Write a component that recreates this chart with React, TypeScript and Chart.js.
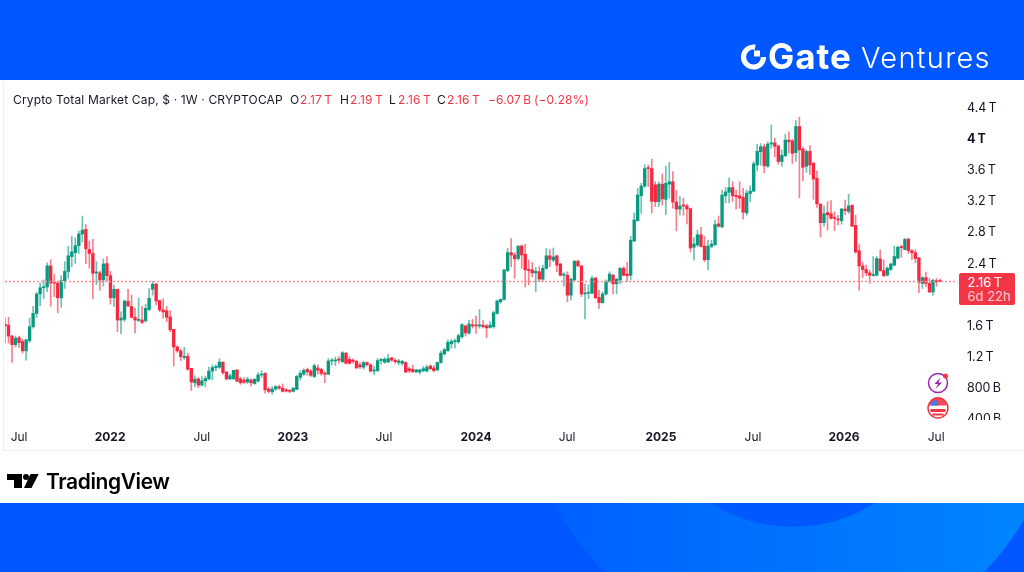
import React, { useEffect, useRef } from "react";
import { Chart, registerables } from "chart.js";

Chart.register(...registerables);

// Weekly candles, values in trillions of USD.
const opens = [
  1.61,1.60,1.46,1.35,1.44,1.39,1.27,1.40,1.58,1.75,
  2.00,2.08,2.09,2.36,2.15,2.14,1.95,2.17,2.29,2.48,
  2.53,2.62,2.77,2.83,2.57,2.52,2.27,2.27,2.18,2.39,
  2.235,1.95,2.06,1.665,1.675,1.905,1.84,1.70,1.66,1.665,
  1.655,1.80,2.06,2.13,1.915,1.795,1.785,1.705,1.545,1.32,
  1.27,1.185,1.20,1.045,0.86,0.91,0.83,0.885,0.91,1.01,
  1.055,1.06,1.125,1.00,0.91,0.91,1.025,0.91,0.895,0.87,
  0.895,0.85,0.88,0.96,0.98,0.78,0.745,0.78,0.81,0.79,
  0.77,0.76,0.75,0.775,0.93,0.97,1.03,1.01,0.94,1.05,
  1.03,0.985,0.97,1.14,1.14,1.165,1.13,1.24,1.16,1.15,
  1.135,1.09,1.06,1.12,1.09,1.01,1.015,1.145,1.125,1.125,
  1.18,1.15,1.12,1.11,1.12,1.04,1.03,1.0,0.998,1.015,
  1.01,1.075,1.05,1.025,1.12,1.23,1.27,1.36,1.385,1.385,
  1.45,1.59,1.50,1.605,1.60,1.59,1.60,1.59,1.57,1.58,
  1.75,1.90,1.93,2.30,2.53,2.50,2.455,2.615,2.51,2.315,
  2.31,2.27,2.285,2.19,2.33,2.49,2.435,2.49,2.385,2.24,
  2.24,1.985,2.18,2.42,2.36,2.0,2.01,2.01,2.205,1.955,
  1.89,2.0,2.16,2.24,2.13,2.18,2.33,2.255,2.24,2.68,
  2.94,3.26,3.385,3.62,3.61,3.40,3.185,3.41,3.215,3.41,
  3.44,3.18,3.09,3.14,3.13,3.095,2.60,2.63,2.76,2.615,
  2.44,2.61,2.63,2.90,2.86,3.26,3.305,3.365,3.265,3.26,
  3.24,3.04,3.29,3.32,3.655,3.825,3.89,3.64,3.925,3.94,
  3.90,3.70,3.775,3.975,3.965,3.815,4.15,3.86,3.64,3.83,
  3.68,3.485,3.155,2.915,3.045,3.03,2.98,2.96,2.94,3.09,
  3.06,3.14,2.88,2.555,2.36,2.315,2.27,2.235,2.24,2.45,
  2.30,2.24,2.315,2.37,2.46,2.605,2.57,2.705,2.555,2.53,
  2.465,2.135,2.21,2.135,2.025,2.165,2.17,
];
const closes = [
  1.59,1.46,1.35,1.43,1.375,1.27,1.41,1.58,1.75,2.00,
  2.08,2.09,2.36,2.14,2.14,1.95,2.17,2.29,2.49,2.54,
  2.62,2.77,2.82,2.58,2.52,2.265,2.28,2.18,2.385,2.235,
  1.95,2.06,1.665,1.69,1.91,1.845,1.70,1.665,1.675,1.635,
  1.815,1.945,2.125,1.91,1.795,1.77,1.70,1.54,1.32,1.27,
  1.195,1.20,1.035,0.87,0.905,0.83,0.885,0.915,1.01,1.055,
  1.07,1.125,0.99,0.91,0.95,1.02,0.88,0.86,0.865,0.905,
  0.86,0.905,0.96,0.97,0.77,0.75,0.78,0.81,0.79,0.75,
  0.755,0.75,0.79,0.94,0.98,1.02,1.00,0.955,1.08,1.02,
  0.98,0.97,1.14,1.15,1.15,1.15,1.245,1.11,1.11,1.135,
  1.05,1.065,1.12,1.09,1.01,1.025,1.145,1.16,1.16,1.17,
  1.15,1.13,1.14,1.135,0.998,1.015,1.0,1.025,1.025,1.04,
  1.06,1.04,1.015,1.12,1.24,1.285,1.38,1.39,1.40,1.465,
  1.605,1.50,1.615,1.59,1.59,1.60,1.58,1.565,1.60,1.76,
  1.91,1.93,2.31,2.53,2.50,2.45,2.615,2.50,2.31,2.30,
  2.27,2.29,2.19,2.33,2.49,2.445,2.475,2.37,2.24,2.255,
  1.985,2.19,2.42,2.36,2.0,2.01,2.02,2.20,1.95,1.89,
  2.0,2.165,2.255,2.13,2.19,2.33,2.24,2.235,2.69,2.95,
  3.27,3.385,3.61,3.61,3.19,3.185,3.41,3.22,3.42,3.44,
  3.18,3.09,3.13,3.13,3.09,2.59,2.64,2.76,2.61,2.44,
  2.615,2.64,2.89,2.87,3.27,3.31,3.365,3.26,3.25,3.23,
  3.05,3.295,3.32,3.67,3.83,3.89,3.645,3.925,3.94,3.895,
  3.70,3.78,3.975,3.955,3.805,4.15,3.85,3.625,3.83,3.655,
  3.475,3.155,2.915,3.03,3.015,2.97,2.97,2.95,3.09,3.07,
  3.13,2.87,2.54,2.36,2.315,2.27,2.24,2.25,2.455,2.30,
  2.235,2.33,2.385,2.48,2.60,2.595,2.70,2.555,2.53,2.455,
  2.15,2.21,2.135,2.025,2.175,2.155,2.16,
];
const highs = [
  1.69,1.70,1.47,1.46,1.46,1.42,1.42,1.69,1.84,2.02,
  2.14,2.18,2.40,2.44,2.25,2.16,2.235,2.415,2.61,2.74,
  2.72,2.81,3.00,2.89,2.68,2.70,2.415,2.295,2.45,2.48,
  2.29,2.115,2.06,1.77,1.92,2.06,1.985,1.815,1.95,1.84,
  1.87,2.07,2.16,2.13,1.92,1.94,1.84,1.785,1.545,1.335,
  1.29,1.315,1.24,1.045,0.95,0.925,0.94,0.945,1.06,1.09,
  1.09,1.17,1.13,1.00,0.975,1.02,1.03,0.93,0.925,0.93,
  0.91,0.915,0.99,1.015,0.99,0.80,0.81,0.825,0.83,0.845,
  0.785,0.775,0.80,0.955,1.015,1.04,1.05,1.03,1.10,1.09,
  1.045,1.0,1.17,1.17,1.19,1.195,1.26,1.25,1.195,1.17,
  1.15,1.12,1.135,1.13,1.10,1.07,1.17,1.175,1.185,1.225,
  1.185,1.17,1.16,1.15,1.13,1.06,1.09,1.035,1.035,1.07,
  1.085,1.09,1.08,1.125,1.27,1.30,1.41,1.42,1.42,1.485,
  1.62,1.60,1.66,1.675,1.72,1.80,1.66,1.61,1.645,1.78,
  1.92,1.94,2.31,2.585,2.71,2.53,2.62,2.63,2.64,2.435,
  2.405,2.34,2.35,2.37,2.585,2.57,2.59,2.50,2.39,2.27,
  2.285,2.20,2.43,2.435,2.37,2.13,2.12,2.23,2.21,2.05,
  2.03,2.18,2.285,2.255,2.20,2.34,2.35,2.405,2.74,3.04,
  3.355,3.42,3.66,3.655,3.73,3.44,3.44,3.54,3.64,3.69,
  3.57,3.33,3.25,3.23,3.155,3.10,2.725,2.82,2.855,2.74,
  2.69,2.69,2.95,3.0,3.335,3.37,3.49,3.44,3.335,3.44,
  3.355,3.335,3.385,3.70,3.92,3.93,3.925,3.955,4.17,4.0,
  3.91,3.85,4.05,4.08,3.985,4.23,4.27,3.89,3.85,3.90,
  3.685,3.58,3.155,3.13,3.185,3.2,3.055,3.01,3.10,3.205,
  3.28,3.14,3.01,2.635,2.41,2.37,2.305,2.48,2.48,2.565,
  2.435,2.35,2.39,2.615,2.615,2.63,2.715,2.715,2.57,2.57,
  2.465,2.22,2.28,2.20,2.19,2.20,2.19,
];
const lows = [
  1.37,1.37,1.12,1.32,1.315,1.24,1.15,1.375,1.56,1.70,
  1.85,1.94,2.03,1.84,1.965,1.76,1.83,2.07,2.20,2.35,
  2.39,2.52,2.67,2.39,2.33,1.94,2.12,2.05,2.10,2.16,
  1.87,1.84,1.515,1.49,1.645,1.84,1.69,1.50,1.645,1.62,
  1.635,1.785,1.985,1.86,1.77,1.69,1.645,1.515,1.075,1.25,
  1.145,1.16,1.02,0.76,0.81,0.80,0.82,0.81,0.90,0.895,
  1.015,1.045,0.97,0.895,0.895,0.905,0.875,0.84,0.85,0.85,
  0.82,0.84,0.87,0.93,0.725,0.73,0.715,0.76,0.775,0.74,
  0.74,0.73,0.74,0.775,0.895,0.955,0.955,0.94,0.925,0.97,
  0.955,0.86,0.96,1.09,1.08,1.11,1.12,1.10,1.10,1.11,
  1.045,1.045,1.035,1.075,0.998,0.965,1.0,1.10,1.11,1.12,
  1.135,1.11,1.09,1.085,0.99,0.99,0.995,0.99,0.97,1.0,
  1.0,1.03,1.0,1.015,1.11,1.215,1.265,1.30,1.305,1.365,
  1.43,1.46,1.48,1.56,1.495,1.56,1.56,1.44,1.56,1.56,
  1.74,1.88,1.92,2.285,2.35,2.20,2.435,2.33,2.09,2.115,
  2.22,2.03,2.16,2.16,2.315,2.35,2.415,2.285,2.23,2.10,
  1.90,1.92,2.17,2.35,1.965,1.68,1.94,2.0,1.94,1.81,
  1.88,1.985,2.145,2.0,2.0,2.13,2.23,2.165,2.18,2.67,
  2.935,3.035,3.37,3.38,3.04,3.12,3.12,3.14,3.02,3.23,
  3.10,2.81,3.01,3.01,2.90,2.54,2.435,2.61,2.60,2.415,
  2.31,2.59,2.63,2.855,2.855,3.17,3.17,3.185,3.09,3.10,
  2.96,3.01,3.185,3.31,3.58,3.655,3.555,3.625,3.87,3.76,
  3.665,3.64,3.76,3.81,3.675,3.70,3.235,3.455,3.56,3.53,
  3.215,3.11,2.73,2.87,2.82,2.96,2.81,2.885,2.895,3.015,
  3.035,2.865,2.52,2.05,2.21,2.235,2.135,2.23,2.23,2.29,
  2.22,2.23,2.30,2.36,2.45,2.47,2.565,2.52,2.445,2.40,
  2.015,2.07,2.09,2.02,1.985,2.10,2.16,
];

const lastPrice = 2.16;
const priceLineWeeks = [0, 271];

// x axis: position in weeks from the first candle, with its label
const xTickWeeks = [4, 29.9, 56, 81.9, 107.8, 134, 159.9, 186.6, 212.8, 238.7, 264.9];
const xTickLabels = ["Jul", "2022", "Jul", "2023", "Jul", "2024", "Jul", "2025", "Jul", "2026", "Jul"];

// y axis: the 2 T label is hidden behind the price tag in the reference
const yTickValues = [0.4, 0.8, 1.2, 1.6, 2.4, 2.8, 3.2, 3.6, 4, 4.4];
const yTickLabels = ["400\u2009B", "800\u2009B", "1.2\u2009T", "1.6\u2009T", "2.4\u2009T", "2.8\u2009T", "3.2\u2009T", "3.6\u2009T", "4\u2009T", "4.4\u2009T"];

const UP = "#089981";
const DOWN = "#F7273F";
const UP_WICK = "rgba(8,153,129,0.6)";
const DOWN_WICK = "rgba(247,39,63,0.6)";
const FONT = "Inter, 'Noto Sans', sans-serif";
const INK = "#131722";

const clipAxisBottom = {
  id: "clipAxisBottom",
  afterDraw(chart: any) {
    const { ctx, chartArea } = chart;
    ctx.save();
    ctx.fillStyle = "#fff";
    ctx.fillRect(chartArea.right + 1, chartArea.bottom, 70, 29);
    ctx.restore();
  },
};

function CandleChart() {
  const ref = useRef<HTMLCanvasElement | null>(null);
  useEffect(() => {
    if (!ref.current) return;
    const isUp = (i: number) => closes[i] >= opens[i];
    const chart = new Chart(ref.current, {
      type: "bar",
      data: {
        datasets: [
          {
            label: "Low–High",
            order: 2,
            data: lows.map((l, i) => ({ x: i, y: [l, highs[i]] })),
            backgroundColor: lows.map((_, i) => (isUp(i) ? UP_WICK : DOWN_WICK)),
            barThickness: 1,
            grouped: false,
          },
          {
            label: "Open–Close",
            order: 1,
            data: opens.map((o, i) => ({ x: i, y: [o, closes[i]] })),
            backgroundColor: opens.map((_, i) => (isUp(i) ? UP : DOWN)),
            barThickness: 2.7,
            minBarLength: 1,
            grouped: false,
          },
          {
            type: "line",
            label: "Last",
            order: 0,
            data: priceLineWeeks.map((x) => ({ x, y: lastPrice })),
            borderColor: "#FF8A94",
            backgroundColor: "#FF8A94",
            borderWidth: 1.5,
            borderDash: [2, 2],
            pointRadius: 0,
            clip: false,
          },
        ] as any,
      },
      plugins: [clipAxisBottom],
      options: {
        responsive: false,
        animation: false,
        layout: { padding: { left: 5, top: 92, right: 0, bottom: 122 } },
        plugins: { legend: { display: false }, tooltip: { enabled: false } },
        scales: {
          x: {
            type: "linear",
            offset: false,
            min: 0,
            max: 269.7,
            grid: { display: false, offset: false, drawTicks: false },
            border: { display: false },
            afterBuildTicks: (s: any) => {
              s.ticks = xTickWeeks.map((value) => ({ value }));
            },
            afterFit: (s: any) => {
              s.height = 30;
            },
            ticks: {
              autoSkip: false,
              maxRotation: 0,
              padding: 10,
              color: INK,
              font: (c: any) => ({
                family: FONT,
                size: 12,
                weight: c.index % 2 === 1 ? "700" : "400",
              }),
              callback: (_v: any, i: number) => xTickLabels[i],
            },
          },
          y: {
            type: "linear",
            position: "right",
            min: 0.382,
            max: 4.5926,
            grid: { display: false, drawTicks: false },
            border: { display: false },
            afterBuildTicks: (s: any) => {
              s.ticks = yTickValues.map((value) => ({ value }));
            },
            afterFit: (s: any) => {
              s.width = 71;
            },
            ticks: {
              autoSkip: false,
              padding: 14,
              labelOffset: 1,
              color: INK,
              font: (c: any) => ({
                family: FONT,
                size: 12.5,
                weight: yTickValues[c.index] === 4 ? "700" : "400",
              }),
              callback: (_v: any, i: number) => yTickLabels[i],
            },
          },
        },
      } as any,
    });
    return () => chart.destroy();
  }, []);
  return (
    <canvas
      ref={ref}
      width={1024}
      height={572}
      style={{ position: "absolute", left: 0, top: 0, width: 1024, height: 572 }}
    />
  );
}

const abs = (left: number, top: number, extra: React.CSSProperties = {}): React.CSSProperties => ({
  position: "absolute",
  left,
  top,
  whiteSpace: "nowrap",
  ...extra,
});

const legend: [number, string, string][] = [
  [13, "Crypto Total Market Cap, $ · 1W · CRYPTOCAP", INK],
  [290, "O", INK],
  [300, "2.17\u2009T", "#F23645"],
  [340, "H", INK],
  [350, "2.19\u2009T", "#F23645"],
  [389, "L", INK],
  [398, "2.16\u2009T", "#F23645"],
  [437, "C", INK],
  [447, "2.16\u2009T", "#F23645"],
  [488, "\u22126.07\u2009B", "#F23645"],
  [534, "(\u22120.28%)", "#F23645"],
];

export default function App() {
  return (
    <div
      style={{
        position: "absolute",
        left: 0,
        top: 0,
        width: 1024,
        height: 572,
        overflow: "hidden",
        background: "#fff",
        fontFamily: FONT,
      }}
    >
      {/* top band */}
      <div style={abs(0, 0, { width: 1024, height: 80, background: "#0057FF" })} />
      {/* bottom band */}
      <svg width={1024} height={69} viewBox="0 503 1024 69" style={abs(0, 503)}>
        <defs>
          <linearGradient id="bandGlow" x1="0" x2="1" y1="0" y2="0">
            <stop offset="0" stopColor="#005EFF" />
            <stop offset="1" stopColor="#0088FF" />
          </linearGradient>
        </defs>
        <rect x={0} y={503} width={1024} height={69} fill="#0057FF" />
        <circle cx={794} cy={385} r={266.6} fill="url(#bandGlow)" />
        <circle cx={793} cy={375} r={152} fill="#0059FF" />
      </svg>

      {/* chart panel edges */}
      <div style={abs(3, 81, { width: 1, height: 369, background: "#EEF0F3" })} />
      <div style={abs(3, 450, { width: 1021, height: 1, background: "#EEF0F3" })} />

      <CandleChart />

      {/* legend line */}
      {legend.map(([x, text, color], i) => (
        <div key={i} style={abs(x, 92, { fontSize: 12, lineHeight: "16px", color, letterSpacing: "0.15px" })}>
          {text}
        </div>
      ))}

      {/* price tag */}
      <div
        style={abs(958.5, 273, {
          width: 56,
          height: 31.5,
          background: "#F23645",
          borderRadius: 2,
          textAlign: "left",
          color: "#fff",
          fontSize: 13,
          lineHeight: "14.5px",
          padding: "1.5px 0 0 9px",
          boxSizing: "border-box",
        })}
      >
        <div>2.16{"\u2009"}T</div>
        <div style={{ color: "rgba(255,255,255,0.75)" }}>6d 22h</div>
      </div>

      {/* event icons */}
      <svg width={26} height={50} viewBox="925 371 26 50" style={abs(925, 371)}>
        <circle cx={938} cy={383} r={9.5} fill="#fff" stroke="#9C27B0" strokeWidth={1.5} />
        <path d="M940.5 377.5 L934.5 384 L938 384 L935.5 389 L942 382.5 L938.5 382.5 Z" fill="#9C27B0" />
        <circle cx={945.5} cy={376} r={2.5} fill="#F23645" />
        <circle cx={938} cy={408} r={10} fill="#fff" stroke="#F23645" strokeWidth={1.5} />
        <path d="M929.5 405.5 H946.5 A 8.5 8.5 0 0 0 929.5 405.5 Z" fill="#F23645" opacity={0.9} />
        <path d="M929.5 405.5 H938 V400.2 A 8.5 8.5 0 0 0 929.5 405.5 Z" fill="#3D7BE8" />
        <rect x={930.5} y={409} width={15} height={3} fill="#F23645" />
        <rect x={932.5} y={413.5} width={11} height={2} fill="#F23645" />
      </svg>

      {/* Gate Ventures logo */}
      <svg width={32} height={32} viewBox="739 41 32 32" style={abs(739, 41)}>
        <path
          d="M755.2 47.15 A 10 10 0 1 0 763.5 57"
          fill="none"
          stroke="#fff"
          strokeWidth={5.2}
        />
        <rect x={754} y={50.5} width={6} height={6} fill="#fff" />
      </svg>
      <div style={abs(768, 34, { fontSize: 35, fontWeight: 700, lineHeight: "44px", color: "#fff", letterSpacing: "1px" })}>Gate</div>
      <div style={abs(861, 36, { fontSize: 29, fontWeight: 300, lineHeight: "44px", color: "#fff", letterSpacing: "1.3px" })}>Ventures</div>

      {/* TradingView logo */}
      <svg width={33} height={17} viewBox="6 473 33 17" style={abs(6, 473)}>
        <path d="M7 474 H22 V488 H14 V480 H7 Z" fill="#000" />
        <circle cx={26} cy={477} r={3} fill="#000" />
        <path d="M30.5 474 H38.7 L31.5 488 H24 Z" fill="#000" />
      </svg>
      <div style={abs(46, 468, { fontSize: 21, fontWeight: 600, lineHeight: "28px", color: "#000", letterSpacing: "-0.4px" })}>
        TradingView
      </div>
    </div>
  );
}
